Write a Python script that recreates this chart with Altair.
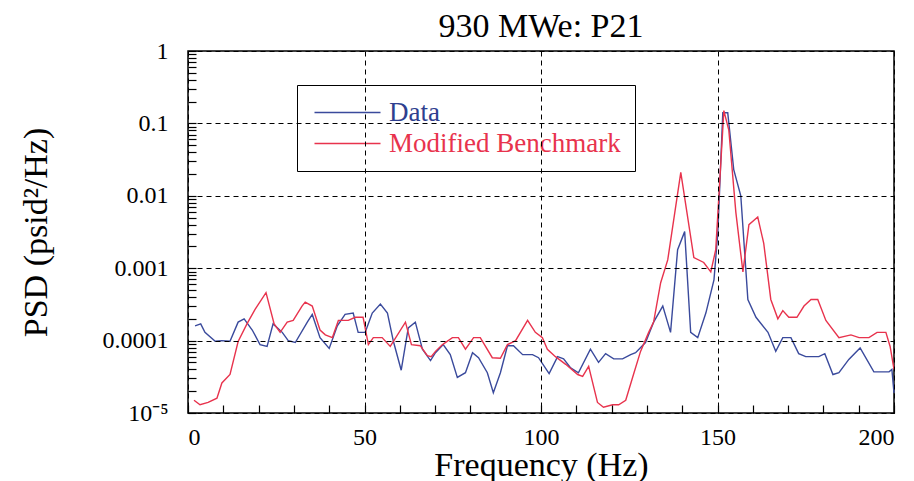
import altair as alt
import pandas as pd

# ---- data ----
freq_data = [2.0, 3.6, 4.8, 7.7, 9.6, 11.9, 14.2, 15.9, 18.2, 20.4, 22.4, 24.1, 26.7, 28.4, 30.4,
             33.8, 35.2, 37.4, 40.0, 42.3, 44.5, 46.8, 48.2, 50.2, 52.2, 54.5, 56.5, 58.2, 60.4,
             62.4, 64.4, 66.4, 68.7, 70.1, 72.3, 74.3, 76.3, 78.6, 80.6, 82.3, 84.8, 86.5, 88.5,
             90.5, 92.2, 94.8, 97.6, 99.3, 102.3, 104.7, 106.4, 108.4, 110.6, 114.0, 116.3, 118.3,
             120.6, 123.1, 125.4, 126.8, 129.6, 131.9, 134.5, 136.7, 138.7, 140.7, 142.4, 144.4,
             146.7, 149.0, 150.1, 151.5, 152.9, 154.6, 156.6, 158.6, 160.9, 164.3, 166.5, 168.5,
             170.8, 173.0, 175.0, 178.7, 180.4, 182.7, 184.4, 187.2, 190.4, 194.3, 198.6, 199.4, 200.0]
psd_data = [1.6e-4, 1.7e-4, 1.3e-4, 9.8e-5, 1.0e-4, 9.8e-5, 1.8e-4, 2.0e-4, 1.4e-4, 8.8e-5, 8.3e-5,
            1.7e-4, 1.3e-4, 1.0e-4, 9.4e-5, 1.8e-4, 2.3e-4, 1.1e-4, 7.8e-5, 1.6e-4, 2.3e-4, 2.4e-4,
            1.3e-4, 1.3e-4, 2.4e-4, 3.2e-4, 2.4e-4, 9.7e-5, 3.9e-5, 1.5e-4, 1.8e-4, 7.6e-5, 5.3e-5,
            6.8e-5, 8.8e-5, 6.4e-5, 3.1e-5, 3.6e-5, 6.8e-5, 5.8e-5, 3.6e-5, 1.9e-5, 3.6e-5, 8.5e-5,
            8.5e-5, 6.4e-5, 6.4e-5, 5.8e-5, 3.5e-5, 6.0e-5, 5.6e-5, 4.2e-5, 3.6e-5, 7.6e-5, 5.0e-5,
            6.6e-5, 5.6e-5, 5.6e-5, 6.4e-5, 6.8e-5, 9.4e-5, 1.8e-4, 3.0e-4, 1.3e-4, 1.8e-3, 3.2e-3,
            1.3e-4, 1.1e-4, 2.4e-4, 6.9e-4, 3.1e-3, 0.14, 0.14, 0.023, 0.010, 3.7e-4, 2.1e-4, 1.3e-4,
            7.1e-5, 1.1e-4, 1.1e-4, 6.6e-5, 6.0e-5, 6.0e-5, 6.6e-5, 3.4e-5, 3.6e-5, 5.5e-5, 7.9e-5,
            3.7e-5, 3.7e-5, 4.0e-5, 1.9e-5]

freq_bench = [1.7, 3.4, 5.7, 8.2, 9.6, 11.9, 14.2, 16.7, 19.0, 22.1, 24.4, 26.1, 28.1, 29.8, 32.3,
              33.2, 35.2, 37.4, 38.9, 40.9, 42.6, 45.4, 47.4, 49.6, 51.1, 52.5, 55.0, 57.3, 61.6,
              63.3, 65.8, 67.8, 68.9, 70.1, 72.1, 74.9, 76.6, 78.6, 80.9, 82.8, 86.2, 88.5, 90.5,
              92.8, 96.2, 98.4, 100.4, 101.8, 104.1, 107.0, 110.4, 111.8, 113.5, 116.0, 117.7,
              120.3, 122.0, 124.0, 126.2, 128.2, 130.5, 131.9, 133.9, 135.9, 139.6, 143.3, 146.1,
              148.1, 149.5, 151.8, 153.2, 155.2, 157.2, 158.9, 161.4, 163.1, 165.1, 167.1, 168.5,
              170.2, 172.5, 174.5, 176.5, 178.4, 180.7, 184.4, 187.8, 190.1, 192.9, 195.2, 197.7,
              198.9, 200.0]
psd_bench = [1.5e-5, 1.3e-5, 1.4e-5, 1.6e-5, 2.6e-5, 3.4e-5, 9.7e-5, 1.7e-4, 2.7e-4, 4.6e-4,
             1.7e-4, 1.3e-4, 1.8e-4, 1.9e-4, 3.0e-4, 3.4e-4, 3.0e-4, 1.4e-4, 1.2e-4, 1.1e-4, 1.9e-4,
             1.9e-4, 2.1e-4, 2.1e-4, 8.8e-5, 1.1e-4, 1.1e-4, 8.3e-5, 1.8e-4, 8.8e-5, 8.5e-5, 6.2e-5,
             6.0e-5, 7.1e-5, 8.8e-5, 1.1e-4, 1.1e-4, 7.6e-5, 1.1e-4, 1.1e-4, 5.8e-5, 5.7e-5, 8.8e-5,
             1.0e-4, 1.9e-4, 1.3e-4, 1.1e-4, 7.6e-5, 6.0e-5, 4.7e-5, 3.4e-5, 3.2e-5, 4.4e-5, 1.4e-5,
             1.2e-5, 1.3e-5, 1.3e-5, 1.5e-5, 3.4e-5, 7.1e-5, 1.3e-4, 1.8e-4, 6.3e-4, 1.3e-3, 0.021,
             1.4e-3, 1.2e-3, 8.9e-4, 1.8e-3, 0.15, 0.081, 5.9e-3, 8.9e-4, 4.0e-3, 5.1e-3, 2.2e-3,
             3.7e-4, 2.0e-4, 2.6e-4, 2.1e-4, 2.1e-4, 3.0e-4, 3.7e-4, 3.7e-4, 1.9e-4, 1.1e-4, 1.2e-4,
             1.1e-4, 1.1e-4, 1.3e-4, 1.3e-4, 8.3e-5, 4.0e-5]

series_names = ["Data", "Modified Benchmark"]
series_colors = ["#3a4a9c", "#e8334d"]

x_tick_values = [0, 10, 20, 30, 40, 50, 60, 70, 80, 90, 100, 110, 120, 130, 140, 150, 160,
                 170, 180, 190, 200]
y_tick_values = [m * 10.0 ** e for e in range(-5, 0) for m in range(1, 10)] + [1.0]

df = pd.concat([
    pd.DataFrame({"freq": freq_data, "psd": psd_data, "series": series_names[0], "order": range(len(freq_data))}),
    pd.DataFrame({"freq": freq_bench, "psd": psd_bench, "series": series_names[1], "order": range(len(freq_bench))}),
])

W, H = 706, 362
FONT = "Liberation Serif"

xscale = alt.Scale(domain=[0, 200], nice=False, zero=False)
yscale = alt.Scale(type="log", domain=[1e-5, 1], nice=False)

grid_dash = [5, 4]
X_MAJOR = "datum.value % 50 === 0"
Y_MAJOR = "abs(log(datum.value)/LN10 - round(log(datum.value)/LN10)) < 0.001"

main_x_axis = alt.Axis(values=x_tick_values, tickSize={"expr": "-8"}, tickColor="black",
                       tickWidth=1.2, tickOpacity=1, zindex=1, domain=False, grid=True,
                       gridColor="black", gridDash=grid_dash, gridWidth=1,
                       gridOpacity={"condition": {"test": X_MAJOR, "value": 1}, "value": 0},
                       labelExpr=f"{X_MAJOR} ? datum.label : ''",
                       labelFont=FONT, labelFontSize=24, labelColor="black", labelPadding=20,
                       title="Frequency (Hz)", titleFont=FONT, titleFontSize=34,
                       titleFontWeight="normal", titleColor="black", titlePadding=-1)
main_y_axis = alt.Axis(values=y_tick_values, tickSize={"expr": "-8"}, tickColor="black",
                       tickWidth=1.2, tickOpacity=1, zindex=1, domain=False, grid=True,
                       gridColor="black", gridDash=grid_dash, gridWidth=1,
                       gridOpacity={"condition": {"test": Y_MAJOR, "value": 1}, "value": 0},
                       labelFont=FONT, labelFontSize=24, labelColor="black", labelPadding=28,
                       labelBaseline="middle",
                       labelExpr=f"!({Y_MAJOR}) ? '' : datum.value < 5e-5 ? '10\u207b\u2075' : format(datum.value, '~r')",
                       title="PSD (psid\u00b2/Hz)", titleFont=FONT, titleFontSize=34,
                       titleFontWeight="normal", titleColor="black", titlePadding=49)

lines = alt.Chart(df).mark_line(strokeWidth=1.4).encode(
    x=alt.X("freq:Q", scale=xscale, axis=main_x_axis),
    y=alt.Y("psd:Q", scale=yscale, axis=main_y_axis),
    color=alt.Color("series:N",
                    scale=alt.Scale(domain=series_names, range=series_colors),
                    legend=alt.Legend(orient="none", legendX=109, legendY=34, title=None,
                                      symbolType="M-3,0H3", symbolSize=484, symbolStrokeWidth=1.5,
                                      labelFont=FONT, labelFontSize=27, labelOffset=28,
                                      labelLimit=400,
                                      labelColor={"expr": "datum.label === 'Data' ? '#2f3f8f' : '#e8334d'"},
                                      strokeColor="black", fillColor="white", padding=14,
                                      rowPadding=3, symbolOffset=23)),
    order="order:Q",
)

chart = lines.properties(
    width=W, height=H,
    title=alt.TitleParams("930 MWe: P21", font=FONT, fontSize=34, fontWeight="normal",
                          color="black", offset=10, dy=15, anchor="middle"),
    autosize=alt.AutoSizeParams(type="none"),
    padding={"left": 188, "top": 51, "right": 20, "bottom": 68},
    background="white",
).configure_view(stroke="black", strokeWidth=1.5)

chart.save("out.html", embed_options={"renderer": "svg", "actions": False})
